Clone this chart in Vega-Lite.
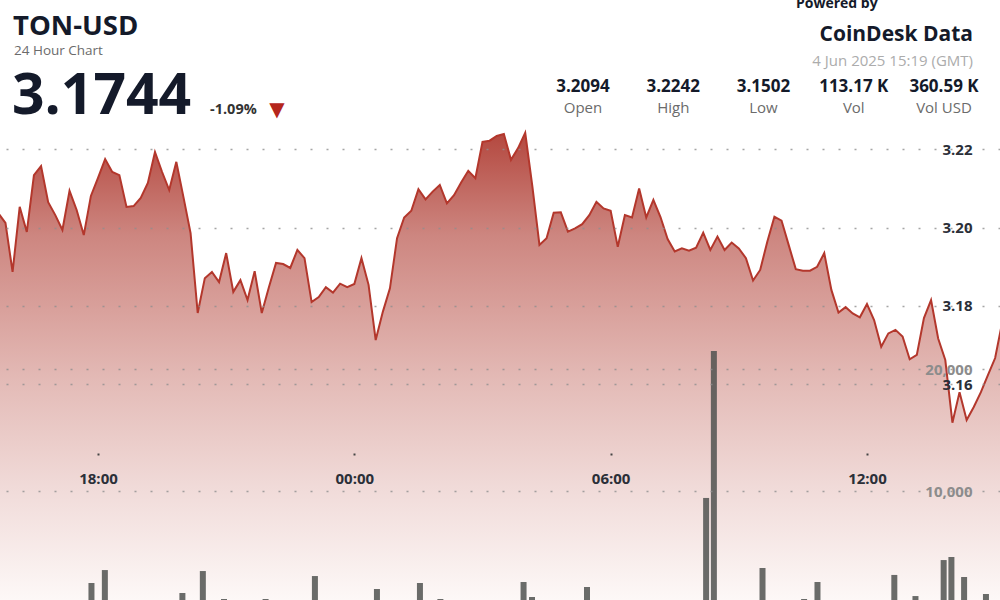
{
  "$schema": "https://vega.github.io/schema/vega-lite/v6.json",
  "width": 1000,
  "height": 600,
  "autosize": "none",
  "padding": 0,
  "background": "white",
  "config": {"view": {"stroke": null}, "font": "Open Sans", "text": {"font": "Open Sans"}},
  "datasets": {
    "price": [
      {"t": "2025-06-03T15:20", "p": 3.2094}, {"t": "2025-06-03T15:30", "p": 3.2058}, {"t": "2025-06-03T15:40", "p": 3.2037}, {"t": "2025-06-03T15:50", "p": 3.2012},
      {"t": "2025-06-03T16:00", "p": 3.1887}, {"t": "2025-06-03T16:10", "p": 3.2053}, {"t": "2025-06-03T16:20", "p": 3.1989}, {"t": "2025-06-03T16:30", "p": 3.2134},
      {"t": "2025-06-03T16:40", "p": 3.2157}, {"t": "2025-06-03T16:50", "p": 3.2065}, {"t": "2025-06-03T17:00", "p": 3.2032}, {"t": "2025-06-03T17:10", "p": 3.1994},
      {"t": "2025-06-03T17:20", "p": 3.2094}, {"t": "2025-06-03T17:30", "p": 3.2045}, {"t": "2025-06-03T17:40", "p": 3.1981}, {"t": "2025-06-03T17:50", "p": 3.2081},
      {"t": "2025-06-03T18:00", "p": 3.2127}, {"t": "2025-06-03T18:10", "p": 3.2175}, {"t": "2025-06-03T18:20", "p": 3.2142}, {"t": "2025-06-03T18:30", "p": 3.2134},
      {"t": "2025-06-03T18:40", "p": 3.2053}, {"t": "2025-06-03T18:50", "p": 3.2055}, {"t": "2025-06-03T19:00", "p": 3.2076}, {"t": "2025-06-03T19:10", "p": 3.2114},
      {"t": "2025-06-03T19:20", "p": 3.2193}, {"t": "2025-06-03T19:30", "p": 3.2142}, {"t": "2025-06-03T19:40", "p": 3.2096}, {"t": "2025-06-03T19:50", "p": 3.2168},
      {"t": "2025-06-03T20:00", "p": 3.2078}, {"t": "2025-06-03T20:10", "p": 3.1986}, {"t": "2025-06-03T20:20", "p": 3.1782}, {"t": "2025-06-03T20:30", "p": 3.1871},
      {"t": "2025-06-03T20:40", "p": 3.1887}, {"t": "2025-06-03T20:50", "p": 3.1861}, {"t": "2025-06-03T21:00", "p": 3.1935}, {"t": "2025-06-03T21:10", "p": 3.1836},
      {"t": "2025-06-03T21:20", "p": 3.1866}, {"t": "2025-06-03T21:30", "p": 3.1815}, {"t": "2025-06-03T21:40", "p": 3.1889}, {"t": "2025-06-03T21:50", "p": 3.1782},
      {"t": "2025-06-03T22:00", "p": 3.1848}, {"t": "2025-06-03T22:10", "p": 3.1910}, {"t": "2025-06-03T22:20", "p": 3.1907}, {"t": "2025-06-03T22:30", "p": 3.1897},
      {"t": "2025-06-03T22:40", "p": 3.1943}, {"t": "2025-06-03T22:50", "p": 3.1922}, {"t": "2025-06-03T23:00", "p": 3.1810}, {"t": "2025-06-03T23:10", "p": 3.1823},
      {"t": "2025-06-03T23:20", "p": 3.1848}, {"t": "2025-06-03T23:30", "p": 3.1834}, {"t": "2025-06-03T23:40", "p": 3.1857}, {"t": "2025-06-03T23:50", "p": 3.1848},
      {"t": "2025-06-04T00:00", "p": 3.1856}, {"t": "2025-06-04T00:10", "p": 3.1922}, {"t": "2025-06-04T00:20", "p": 3.1854}, {"t": "2025-06-04T00:30", "p": 3.1713},
      {"t": "2025-06-04T00:40", "p": 3.1785}, {"t": "2025-06-04T00:50", "p": 3.1845}, {"t": "2025-06-04T01:00", "p": 3.1973}, {"t": "2025-06-04T01:10", "p": 3.2026},
      {"t": "2025-06-04T01:20", "p": 3.2043}, {"t": "2025-06-04T01:30", "p": 3.2098}, {"t": "2025-06-04T01:40", "p": 3.2072}, {"t": "2025-06-04T01:50", "p": 3.2092},
      {"t": "2025-06-04T02:00", "p": 3.2109}, {"t": "2025-06-04T02:10", "p": 3.2062}, {"t": "2025-06-04T02:20", "p": 3.2083}, {"t": "2025-06-04T02:30", "p": 3.2115},
      {"t": "2025-06-04T02:40", "p": 3.2145}, {"t": "2025-06-04T02:50", "p": 3.2126}, {"t": "2025-06-04T03:00", "p": 3.2219}, {"t": "2025-06-04T03:10", "p": 3.2222},
      {"t": "2025-06-04T03:20", "p": 3.2234}, {"t": "2025-06-04T03:30", "p": 3.2239}, {"t": "2025-06-04T03:40", "p": 3.2173}, {"t": "2025-06-04T03:50", "p": 3.2203},
      {"t": "2025-06-04T04:00", "p": 3.2242}, {"t": "2025-06-04T04:10", "p": 3.2106}, {"t": "2025-06-04T04:20", "p": 3.1956}, {"t": "2025-06-04T04:30", "p": 3.1973},
      {"t": "2025-06-04T04:40", "p": 3.2038}, {"t": "2025-06-04T04:50", "p": 3.2039}, {"t": "2025-06-04T05:00", "p": 3.1990}, {"t": "2025-06-04T05:10", "p": 3.1998},
      {"t": "2025-06-04T05:20", "p": 3.2009}, {"t": "2025-06-04T05:30", "p": 3.2032}, {"t": "2025-06-04T05:40", "p": 3.2066}, {"t": "2025-06-04T05:50", "p": 3.2049},
      {"t": "2025-06-04T06:00", "p": 3.2043}, {"t": "2025-06-04T06:10", "p": 3.1951}, {"t": "2025-06-04T06:20", "p": 3.2032}, {"t": "2025-06-04T06:30", "p": 3.2026},
      {"t": "2025-06-04T06:40", "p": 3.2100}, {"t": "2025-06-04T06:50", "p": 3.2026}, {"t": "2025-06-04T07:00", "p": 3.2071}, {"t": "2025-06-04T07:10", "p": 3.2027},
      {"t": "2025-06-04T07:20", "p": 3.1971}, {"t": "2025-06-04T07:30", "p": 3.1939}, {"t": "2025-06-04T07:40", "p": 3.1947}, {"t": "2025-06-04T07:50", "p": 3.1941},
      {"t": "2025-06-04T08:00", "p": 3.1949}, {"t": "2025-06-04T08:10", "p": 3.1987}, {"t": "2025-06-04T08:20", "p": 3.1943}, {"t": "2025-06-04T08:30", "p": 3.1977},
      {"t": "2025-06-04T08:40", "p": 3.1943}, {"t": "2025-06-04T08:50", "p": 3.1962}, {"t": "2025-06-04T09:00", "p": 3.1947}, {"t": "2025-06-04T09:10", "p": 3.1922},
      {"t": "2025-06-04T09:20", "p": 3.1865}, {"t": "2025-06-04T09:30", "p": 3.1892}, {"t": "2025-06-04T09:40", "p": 3.1964}, {"t": "2025-06-04T09:50", "p": 3.2028},
      {"t": "2025-06-04T10:00", "p": 3.2018}, {"t": "2025-06-04T10:10", "p": 3.1956}, {"t": "2025-06-04T10:20", "p": 3.1894}, {"t": "2025-06-04T10:30", "p": 3.1890},
      {"t": "2025-06-04T10:40", "p": 3.1890}, {"t": "2025-06-04T10:50", "p": 3.1900}, {"t": "2025-06-04T11:00", "p": 3.1935}, {"t": "2025-06-04T11:10", "p": 3.1841},
      {"t": "2025-06-04T11:20", "p": 3.1783}, {"t": "2025-06-04T11:30", "p": 3.1797}, {"t": "2025-06-04T11:40", "p": 3.1781}, {"t": "2025-06-04T11:50", "p": 3.1771},
      {"t": "2025-06-04T12:00", "p": 3.1805}, {"t": "2025-06-04T12:10", "p": 3.1764}, {"t": "2025-06-04T12:20", "p": 3.1696}, {"t": "2025-06-04T12:30", "p": 3.1730},
      {"t": "2025-06-04T12:40", "p": 3.1739}, {"t": "2025-06-04T12:50", "p": 3.1722}, {"t": "2025-06-04T13:00", "p": 3.1664}, {"t": "2025-06-04T13:10", "p": 3.1675},
      {"t": "2025-06-04T13:20", "p": 3.1769}, {"t": "2025-06-04T13:30", "p": 3.1815}, {"t": "2025-06-04T13:40", "p": 3.1717}, {"t": "2025-06-04T13:50", "p": 3.1662},
      {"t": "2025-06-04T14:00", "p": 3.1502}, {"t": "2025-06-04T14:10", "p": 3.1580}, {"t": "2025-06-04T14:20", "p": 3.1509}, {"t": "2025-06-04T14:30", "p": 3.1542},
      {"t": "2025-06-04T14:40", "p": 3.1580}, {"t": "2025-06-04T14:50", "p": 3.1624}, {"t": "2025-06-04T15:00", "p": 3.1667}, {"t": "2025-06-04T15:10", "p": 3.1759},
      {"t": "2025-06-04T15:19", "p": 3.1744}
    ],
    "vol": [
      {"t": "2025-06-03T17:45", "v": 2460}, {"t": "2025-06-03T18:04", "v": 3520}, {"t": "2025-06-03T19:54", "v": 1640}, {"t": "2025-06-03T20:23", "v": 3440},
      {"t": "2025-06-03T20:53", "v": 1150}, {"t": "2025-06-03T21:52", "v": 1150}, {"t": "2025-06-03T23:02", "v": 3030}, {"t": "2025-06-04T00:30", "v": 1970},
      {"t": "2025-06-04T01:31", "v": 2460}, {"t": "2025-06-04T02:00", "v": 1150}, {"t": "2025-06-04T03:58", "v": 2540}, {"t": "2025-06-04T04:10", "v": 1310},
      {"t": "2025-06-04T05:28", "v": 2130}, {"t": "2025-06-04T08:17", "v": 9430}, {"t": "2025-06-04T08:28", "v": 21480}, {"t": "2025-06-04T09:37", "v": 3690},
      {"t": "2025-06-04T10:36", "v": 1150}, {"t": "2025-06-04T10:55", "v": 2540}, {"t": "2025-06-04T12:44", "v": 3120}, {"t": "2025-06-04T13:14", "v": 1390},
      {"t": "2025-06-04T13:54", "v": 4340}, {"t": "2025-06-04T14:05", "v": 4590}, {"t": "2025-06-04T14:23", "v": 2950}, {"t": "2025-06-04T14:54", "v": 1560}
    ],
    "header": [
      {"key": "sym", "txt": "TON-USD"},
      {"key": "sub", "txt": "24 Hour Chart"},
      {"key": "last", "txt": "3.1744"},
      {"key": "chg", "txt": "-1.09%"},
      {"key": "arrow", "txt": "▼"},
      {"key": "pow", "txt": "Powered by"},
      {"key": "brand", "txt": "CoinDesk Data"},
      {"key": "date", "txt": "4 Jun 2025 15:19 (GMT)"}
    ],
    "stats": [
      {"label": "Open", "value": "3.2094"},
      {"label": "High", "value": "3.2242"},
      {"label": "Low", "value": "3.1502"},
      {"label": "Vol", "value": "113.17 K"},
      {"label": "Vol USD", "value": "360.59 K"}
    ]
  },
  "layer": [
    {
      "data": {"name": "price"},
      "mark": {"type": "area", "clip": true, "interpolate": "linear",
        "color": {"gradient": "linear", "x1": 0, "y1": 0, "x2": 0, "y2": 1,
          "stops": [{"offset": 0, "color": "#b4483f"}, {"offset": 0.22, "color": "#cd8680"}, {"offset": 0.38, "color": "#d9a19c"}, {"offset": 0.54, "color": "#e4bcb8"}, {"offset": 0.77, "color": "#f1dcda"}, {"offset": 1, "color": "#fdf8f7"}]}},
      "encoding": {
        "x": {"field": "t", "type": "temporal",
          "scale": {"domain": [{"year": 2025, "month": 6, "date": 3, "hours": 15, "minutes": 42, "seconds": 20}, {"year": 2025, "month": 6, "date": 4, "hours": 15, "minutes": 6, "seconds": 50}]},
          "axis": {"orient": "bottom", "offset": -147, "title": null, "domain": false, "grid": false,
            "values": [{"year": 2025, "month": 6, "date": 3, "hours": 18}, {"year": 2025, "month": 6, "date": 4, "hours": 0}, {"year": 2025, "month": 6, "date": 4, "hours": 6}, {"year": 2025, "month": 6, "date": 4, "hours": 12}],
            "format": "%H:%M", "ticks": true, "tickSize": 2, "tickWidth": 2, "tickColor": "#444444",
            "labelFont": "Open Sans", "labelFontSize": 15, "labelFontWeight": "bold", "labelColor": "#2b2f38",
            "labelBaseline": "alphabetic", "labelPadding": 28, "labelFlush": false, "labelOverlap": false, "zindex": 1}},
        "y": {"field": "p", "type": "quantitative",
          "scale": {"domain": [3.10493, 3.25812], "zero": false, "nice": false},
          "axis": {"orient": "right", "title": null, "values": [3.16, 3.18, 3.2, 3.22], "format": ".2f", "domain": false, "ticks": false,
            "grid": true, "gridColor": "#8f8f8f", "gridOpacity": 0.8, "gridDash": [2, 14], "gridWidth": 1.5,
            "labelAlign": "right", "labelPadding": -28, "labelFont": "Open Sans", "labelFontSize": 15, "labelFontWeight": "bold", "labelColor": "#2b2f38", "zindex": 1}},
        "y2": {"datum": 3.10493}
      }
    },
    {
      "data": {"name": "vol"},
      "mark": {"type": "bar", "clip": true, "size": 6, "color": "#505250", "opacity": 0.85},
      "encoding": {
        "x": {"field": "t", "type": "temporal",
          "scale": {"domain": [{"year": 2025, "month": 6, "date": 3, "hours": 15, "minutes": 42, "seconds": 20}, {"year": 2025, "month": 6, "date": 4, "hours": 15, "minutes": 6, "seconds": 50}]},
          "axis": null},
        "y": {"field": "v", "type": "quantitative",
          "scale": {"domain": [1066, 50246], "zero": false, "nice": false},
          "axis": {"orient": "right", "title": null, "values": [10000, 20000], "format": ",.0f", "domain": false, "ticks": false,
            "grid": true, "gridColor": "#8f8f8f", "gridOpacity": 0.8, "gridDash": [2, 14], "gridWidth": 1.5,
            "labelAlign": "right", "labelPadding": -28, "labelFont": "Open Sans", "labelFontSize": 15, "labelFontWeight": "bold", "labelColor": "#8c8c8c", "zindex": 1}},
        "y2": {"datum": 1066}
      }
    },
    {
      "data": {"name": "price"},
      "mark": {"type": "line", "clip": true, "color": "#b3372c", "strokeWidth": 2},
      "encoding": {
        "x": {"field": "t", "type": "temporal",
          "scale": {"domain": [{"year": 2025, "month": 6, "date": 3, "hours": 15, "minutes": 42, "seconds": 20}, {"year": 2025, "month": 6, "date": 4, "hours": 15, "minutes": 6, "seconds": 50}]},
          "axis": null},
        "y": {"field": "p", "type": "quantitative", "scale": {"domain": [3.10493, 3.25812], "zero": false, "nice": false}, "axis": null}
      }
    },
    {
      "data": {"name": "header"},
      "transform": [{"filter": "datum.key == 'sym'"}],
      "mark": {"type": "text", "align": "left", "baseline": "alphabetic", "fontSize": 27.5, "fontWeight": "bold", "color": "#141a2a"},
      "encoding": {"text": {"field": "txt"}, "x": {"value": 13}, "y": {"value": 35}}
    },
    {
      "data": {"name": "header"},
      "transform": [{"filter": "datum.key == 'sub'"}],
      "mark": {"type": "text", "align": "left", "baseline": "alphabetic", "fontSize": 13.5, "color": "#6b6b6b"},
      "encoding": {"text": {"field": "txt"}, "x": {"value": 14}, "y": {"value": 55}}
    },
    {
      "data": {"name": "header"},
      "transform": [{"filter": "datum.key == 'last'"}],
      "mark": {"type": "text", "align": "left", "baseline": "alphabetic", "fontSize": 57, "fontWeight": "bold", "color": "#141a2a"},
      "encoding": {"text": {"field": "txt"}, "x": {"value": 12}, "y": {"value": 114}}
    },
    {
      "data": {"name": "header"},
      "transform": [{"filter": "datum.key == 'chg'"}],
      "mark": {"type": "text", "align": "left", "baseline": "alphabetic", "fontSize": 14.5, "fontWeight": "bold", "color": "#333333"},
      "encoding": {"text": {"field": "txt"}, "x": {"value": 210}, "y": {"value": 114}}
    },
    {
      "data": {"name": "header"},
      "transform": [{"filter": "datum.key == 'arrow'"}],
      "mark": {"type": "text", "align": "center", "baseline": "middle", "fontSize": 20, "font": "DejaVu Sans", "color": "#b5261c"},
      "encoding": {"text": {"field": "txt"}, "x": {"value": 277}, "y": {"value": 110}}
    },
    {
      "data": {"name": "header"},
      "transform": [{"filter": "datum.key == 'pow'"}],
      "mark": {"type": "text", "align": "left", "baseline": "alphabetic", "fontSize": 14, "fontWeight": "bold", "color": "#141a2a"},
      "encoding": {"text": {"field": "txt"}, "x": {"value": 796}, "y": {"value": 8}}
    },
    {
      "data": {"name": "header"},
      "transform": [{"filter": "datum.key == 'brand'"}],
      "mark": {"type": "text", "align": "right", "baseline": "alphabetic", "fontSize": 21, "fontWeight": "bold", "color": "#141a2a"},
      "encoding": {"text": {"field": "txt"}, "x": {"value": 973}, "y": {"value": 41}}
    },
    {
      "data": {"name": "header"},
      "transform": [{"filter": "datum.key == 'date'"}],
      "mark": {"type": "text", "align": "right", "baseline": "alphabetic", "fontSize": 15, "color": "#acacac"},
      "encoding": {"text": {"field": "txt"}, "x": {"value": 973}, "y": {"value": 66}}
    },
    {
      "data": {"name": "stats"},
      "mark": {"type": "text", "align": "center", "baseline": "alphabetic", "fontSize": 17, "fontWeight": "bold", "color": "#141a2a"},
      "encoding": {
        "text": {"field": "value"},
        "x": {"field": "label", "type": "nominal", "scale": {"type": "point", "domain": ["Open", "High", "Low", "Vol", "Vol USD"], "range": [583, 944], "padding": 0}, "axis": null},
        "y": {"value": 91.5}
      }
    },
    {
      "data": {"name": "stats"},
      "mark": {"type": "text", "align": "center", "baseline": "alphabetic", "fontSize": 15, "color": "#6b6b6b"},
      "encoding": {
        "text": {"field": "label"},
        "x": {"field": "label", "type": "nominal", "scale": {"type": "point", "domain": ["Open", "High", "Low", "Vol", "Vol USD"], "range": [583, 944], "padding": 0}, "axis": null},
        "y": {"value": 112.5}
      }
    }
  ],
  "resolve": {"scale": {"x": "independent", "y": "independent"}}
}
